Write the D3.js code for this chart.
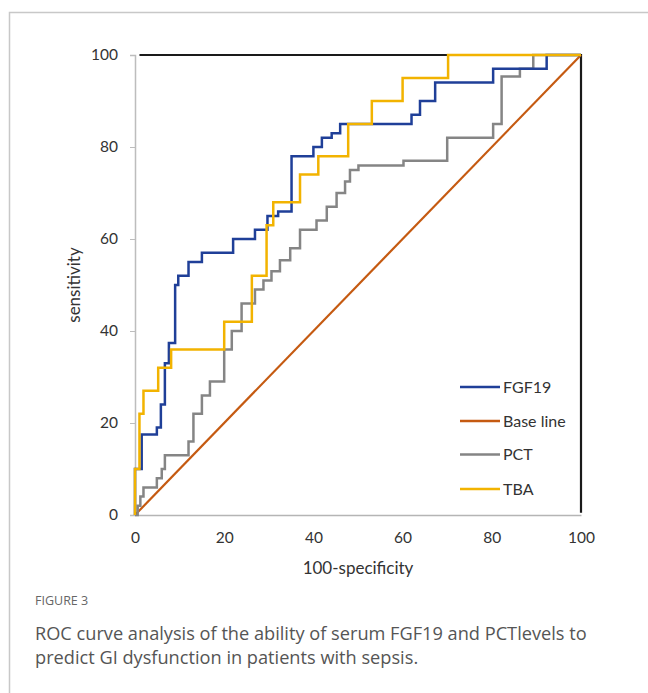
<!DOCTYPE html>
<html><head><meta charset="utf-8">
<script src="https://cdn.jsdelivr.net/npm/d3@7"></script>
<style>body{margin:0;background:#fff;}svg{display:block;}</style>
</head><body>
<svg id="c" width="648" height="693"></svg>
<script>
// ---- data (top-left corners of ROC staircases, drawn with step-after) ----
const fgf19X = [0,0,1.5,4.9,5.8,6.7,7.6,9.0,9.7,12,15,22,26.9,29.7,32.1,35.1,40,41.9,44.1,46,62,63.9,67.3,80.3,92.3,100];
const fgf19Y = [0,10,17.5,19,24,33,37.4,50,52,55,57,60,62,65,66,78,80,82,83,85,87,90,94,97,100,100];
const tbaX = [0,0,1.0,1.9,5.2,8.1,20,26.2,29.5,31,37,41.1,47.8,53.1,60,70.2,100];
const tbaY = [0,10,22,27,32,36,42,52,63,68,74,78,85,90,95,100,100];
const pctX = [0,0.6,1.2,1.9,4.9,6.0,6.7,12,13.1,15,16.8,20,21.7,23.9,26.9,28.8,30.6,32.5,34.8,37,40.7,43,45.2,47.1,48.2,50.1,60.2,70,80.3,82.2,86.3,89.3,100];
const pctY = [0,2,4,6,8,10,13,16,22,26,29,36,40,46,49,51,53,55.4,58,62,64,67,70,72.5,75,76,77,82,85,95.3,97,100,100];
const baseX = [0,100];
const baseY = [0,100];
const seriesNames = ["FGF19","Base line","PCT","TBA"];
const seriesColors = ["#1f3f98","#c55a11","#858585","#f2b300"];
const xTicks = [0,20,40,60,80,100];
const yTicks = [0,20,40,60,80,100];

const svg = d3.select("#c");
const font = "Lato, 'Open Sans', sans-serif";

// outer frame
svg.append("path").attr("d","M9.5,700 V12.5 H660").attr("fill","none").attr("stroke","#c8c8c8").attr("stroke-width",1.5);

const x = d3.scaleLinear().domain([0,100]).range([135,581]);
const y = d3.scaleLinear().domain([0,100]).range([515,55]);

// axes
const yAxis = svg.append("g").attr("transform","translate(135,0)")
  .call(d3.axisLeft(y).tickValues(yTicks).tickSize(5).tickPadding(12));
yAxis.select(".domain").attr("stroke","#bdbdbd").attr("stroke-width",1.5);
yAxis.selectAll(".tick line").attr("stroke","#bdbdbd");
yAxis.selectAll(".tick text").attr("font-family",font).attr("font-size",15.5).attr("fill","#333");

const xAxis = svg.append("g").attr("transform","translate(0,515)")
  .call(d3.axisBottom(x).tickValues(xTicks).tickSize(0).tickPadding(17));
xAxis.select(".domain").attr("stroke","#b5b5b5").attr("stroke-width",1.5);
xAxis.selectAll(".tick text").attr("font-family",font).attr("font-size",15.5).attr("fill","#333");

// black top / right border of plot area
svg.append("path")
  .attr("d",`M${x(1)},${y(100)} H${x(100)} V${y(0.5)}`)
  .attr("fill","none").attr("stroke","#1a1a1a").attr("stroke-width",2.2);

// axis titles
svg.append("text").attr("x",358).attr("y",574).attr("text-anchor","middle")
  .attr("font-family",font).attr("font-size",17).attr("fill","#333").text("100-specificity");
svg.append("text").attr("transform","translate(80,285) rotate(-90)").attr("text-anchor","middle")
  .attr("font-family",font).attr("font-size",17).attr("fill","#333").text("sensitivity");

// curves
const stepLine = d3.line().x(d=>x(d[0])).y(d=>y(d[1])).curve(d3.curveStepAfter);
const straight = d3.line().x(d=>x(d[0])).y(d=>y(d[1]));
const zip = (a,b)=>a.map((v,i)=>[v,b[i]]);

svg.append("path").attr("d",straight(zip(baseX,baseY))).attr("fill","none")
  .attr("stroke",seriesColors[1]).attr("stroke-width",2.2);
svg.append("path").attr("d",stepLine(zip(pctX,pctY))).attr("fill","none")
  .attr("stroke",seriesColors[2]).attr("stroke-width",2.5);
svg.append("path").attr("d",stepLine(zip(fgf19X,fgf19Y))).attr("fill","none")
  .attr("stroke",seriesColors[0]).attr("stroke-width",2.5);
svg.append("path").attr("d",stepLine(zip(tbaX,tbaY))).attr("fill","none")
  .attr("stroke",seriesColors[3]).attr("stroke-width",2.5);

// legend
const legY = [387,421,454.5,489];
const lg = svg.append("g");
seriesNames.forEach((n,i)=>{
  lg.append("line").attr("x1",460).attr("x2",500).attr("y1",legY[i]).attr("y2",legY[i])
    .attr("stroke",seriesColors[i]).attr("stroke-width",2.5);
  lg.append("text").attr("x",503).attr("y",legY[i]).attr("dy","0.35em")
    .attr("font-family",font).attr("font-size",16).attr("fill","#333").text(n);
});

// caption
svg.append("text").attr("x",35).attr("y",605).attr("font-family","'Open Sans', sans-serif")
  .attr("font-size",12.5).attr("fill","#666").text("FIGURE 3");
svg.append("text").attr("x",35).attr("y",640).attr("font-family","'Open Sans', sans-serif")
  .attr("font-size",18.2).attr("fill","#555").text("ROC curve analysis of the ability of serum FGF19 and PCTlevels to");
svg.append("text").attr("x",35).attr("y",664).attr("font-family","'Open Sans', sans-serif")
  .attr("font-size",18.2).attr("fill","#555").text("predict GI dysfunction in patients with sepsis.");
</script>
</body></html>
